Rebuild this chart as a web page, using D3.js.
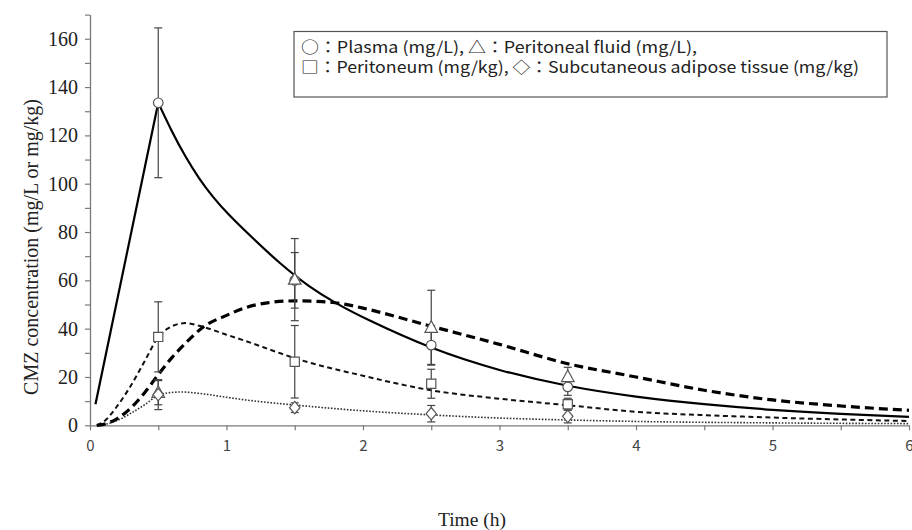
<!DOCTYPE html>
<html><head><meta charset="utf-8">
<script src="https://cdn.jsdelivr.net/npm/d3@7"></script>
<style>body{margin:0;background:#fff}svg{display:block}</style>
</head><body>
<svg id="c" width="912" height="530"></svg>
<script>
// ---- data ----
const sampleTimes = [0.5, 1.5, 2.5, 3.5];
const plasmaMean = [133.5, 60, 33.2, 15.9];
const plasmaSD = [31, 11.5, 8, 3.5];
const fluidMean = [13.5, 60.3, 40.4, 20];
const fluidSD = [5, 17, 15.5, 4];
const peritMean = [36.6, 26.3, 17.2, 8.7];
const peritSD = [14.5, 15, 6, 2.5];
const adiposeMean = [12.7, 7.3, 4.8, 3.7];
const adiposeSD = [6.2, 2, 3.4, 2.7];

const plasmaRiseT = [0.04, 0.5];
const plasmaRiseV = [8.7, 133.5];
const plasmaDecayT = [0.5, 0.6, 0.7, 0.8, 0.9, 1.0, 1.2, 1.4, 1.6, 1.8, 2.0, 2.5, 3.0, 3.5, 4.0, 4.5, 5.0, 5.5, 6.0];
const plasmaDecayV = [133.5, 121.5, 111, 102, 94.5, 88, 77, 66.5, 57.5, 50.5, 44.5, 31.5, 22.5, 16, 11.7, 8.6, 6.3, 4.7, 3.5];
const fluidT = [0.05, 0.1, 0.2, 0.3, 0.4, 0.5, 0.6, 0.7, 0.83, 1.0, 1.14, 1.3, 1.5, 1.7, 1.85, 2.0, 2.5, 3.0, 3.5, 4.0, 4.5, 5.0, 5.5, 6.0];
const fluidV = [0, 0.4, 2.8, 7.2, 13.5, 21, 28, 34, 40.7, 45.5, 48.7, 50.7, 51.5, 51.2, 50.3, 48.5, 41, 33.5, 25.5, 20, 14.5, 10.5, 8, 6.2];
const peritT = [0.05, 0.1, 0.2, 0.3, 0.4, 0.5, 0.6, 0.7, 0.83, 1.0, 1.14, 1.4, 1.5, 2.0, 2.5, 3.0, 3.5, 4.0, 4.5, 5.0, 5.5, 6.0];
const peritV = [0, 1.5, 8, 16.5, 26.5, 36.5, 41, 42.3, 40.7, 37.5, 34.9, 29.7, 27.8, 20.5, 14.5, 11, 8.3, 5.6, 4.2, 3.2, 2.4, 1.8];
const adiposeT = [0.05, 0.1, 0.2, 0.3, 0.4, 0.5, 0.6, 0.67, 0.8, 1.0, 1.14, 1.5, 2.0, 2.5, 3.0, 3.5, 4.0, 5.0, 6.0];
const adiposeV = [0, 0.3, 2, 5, 8.5, 12.4, 13.6, 13.8, 13.2, 11.6, 10.5, 8.4, 6, 4.3, 3, 2.2, 1.6, 1, 0.7];

const yTicks = [0,10,20,30,40,50,60,70,80,90,100,110,120,130,140,150,160,170];
const xTicks = [0,0.5,1,1.5,2,2.5,3,3.5,4,4.5,5,5.5,6];
const legendLines = ["○：Plasma (mg/L), △：Peritoneal fluid (mg/L),",
                     "□：Peritoneum (mg/kg), ◇：Subcutaneous adipose tissue (mg/kg)"];
const yTitle = "CMZ concentration (mg/L or mg/kg)";
const xTitle = "Time (h)";

// ---- drawing ----
const svg = d3.select("#c");
const x = d3.scaleLinear().domain([0, 6]).range([90, 909]);
const y = d3.scaleLinear().domain([0, 170]).range([425.3, 14.6]);
const axisColor = "#7a7a7a";

// y axis
const ya = svg.append("g").attr("transform", "translate(90,0)")
  .call(d3.axisLeft(y).tickValues(yTicks).tickSize(5).tickSizeOuter(0).tickPadding(7)
    .tickFormat(d => d % 20 === 0 && d <= 160 ? d : ""));
ya.select(".domain").attr("stroke", axisColor).attr("stroke-width", 1.3);
ya.selectAll(".tick line").attr("stroke", axisColor).attr("stroke-width", 1.2);
ya.selectAll(".tick text").attr("font-family", "Liberation Serif").attr("font-size", 20).attr("fill", "#222");

// x axis
const xa = svg.append("g").attr("transform", "translate(0,425.3)")
  .call(d3.axisBottom(x).tickValues(xTicks).tickSize(5).tickSizeOuter(0).tickPadding(10)
    .tickFormat(d => Number.isInteger(d) ? d : ""));
xa.select(".domain").attr("stroke", axisColor).attr("stroke-width", 1.3);
xa.selectAll(".tick line").attr("stroke", axisColor).attr("stroke-width", 1.2);
xa.selectAll(".tick text").attr("font-family", "Noto Sans CJK JP").attr("font-size", 15).attr("fill", "#444");

// titles
svg.append("text").attr("transform", "translate(38,247) rotate(-90)").attr("text-anchor", "middle")
  .attr("font-family", "Liberation Serif").attr("font-size", 20).attr("fill", "#222").text(yTitle);
svg.append("text").attr("x", 472).attr("y", 526).attr("text-anchor", "middle")
  .attr("font-family", "Liberation Serif").attr("font-size", 19.5).attr("fill", "#222").text(xTitle);

// curves
const zip = (ts, vs) => ts.map((t, i) => [t, vs[i]]);
const lineM = d3.line().x(d => x(d[0])).y(d => y(d[1])).curve(d3.curveMonotoneX);
const lineB = d3.line().x(d => x(d[0])).y(d => y(d[1])).curve(d3.curveBasis);
const lineL = d3.line().x(d => x(d[0])).y(d => y(d[1]));
const g = svg.append("g").attr("fill", "none");
g.append("path").attr("d", lineM(zip(adiposeT, adiposeV))).attr("stroke", "#333").attr("stroke-width", 1.6).attr("stroke-dasharray", "1.6,1.6");
g.append("path").attr("d", lineM(zip(peritT, peritV))).attr("stroke", "#111").attr("stroke-width", 2).attr("stroke-dasharray", "5,3.5");
g.append("path").attr("d", lineM(zip(fluidT, fluidV))).attr("stroke", "#000").attr("stroke-width", 3.2).attr("stroke-dasharray", "9,5");
g.append("path").attr("d", lineL(zip(plasmaRiseT, plasmaRiseV))).attr("stroke", "#000").attr("stroke-width", 2.2);
g.append("path").attr("d", lineB(zip(plasmaDecayT, plasmaDecayV))).attr("stroke", "#000").attr("stroke-width", 2.2);

// error bars
const series = [
  {m: plasmaMean, s: plasmaSD, shape: "circle"},
  {m: fluidMean, s: fluidSD, shape: "triangle"},
  {m: peritMean, s: peritSD, shape: "square"},
  {m: adiposeMean, s: adiposeSD, shape: "diamond"}
];
const eb = svg.append("g").attr("stroke", "#444").attr("stroke-width", 1.2);
series.forEach(se => {
  sampleTimes.forEach((t, i) => {
    const cx = x(t), top = y(se.m[i] + se.s[i]), bot = y(Math.max(0, se.m[i] - se.s[i]));
    eb.append("line").attr("x1", cx).attr("x2", cx).attr("y1", top).attr("y2", bot);
    eb.append("line").attr("x1", cx - 4).attr("x2", cx + 4).attr("y1", top).attr("y2", top);
    eb.append("line").attr("x1", cx - 4).attr("x2", cx + 4).attr("y1", bot).attr("y2", bot);
  });
});

// markers
function shapePath(shape) {
  if (shape === "circle") return "M4.8,0A4.8,4.8 0 1,1 -4.8,0A4.8,4.8 0 1,1 4.8,0Z";
  if (shape === "square") return "M-4.6,-4.6H4.6V4.6H-4.6Z";
  if (shape === "triangle") return "M0,-7L6.3,4.6H-6.3Z";
  return "M0,-6.2L5.2,0L0,6.2L-5.2,0Z";
}
const mk = svg.append("g");
series.forEach(se => {
  sampleTimes.forEach((t, i) => {
    mk.append("path").attr("d", shapePath(se.shape))
      .attr("transform", `translate(${x(t)},${y(se.m[i])})`)
      .attr("fill", "#fff").attr("stroke", "#555").attr("stroke-width", 1.2);
  });
});

// legend
svg.append("rect").attr("x", 294).attr("y", 31.5).attr("width", 593).attr("height", 65.5)
  .attr("fill", "#fff").attr("stroke", "#555").attr("stroke-width", 1.2);
const lt = svg.append("g").attr("font-family", "Noto Sans CJK JP").attr("font-size", 16).attr("fill", "#222");
lt.append("text").attr("x", 301).attr("y", 52.5).attr("textLength", 396).attr("lengthAdjust", "spacingAndGlyphs").text(legendLines[0]);
lt.append("text").attr("x", 301).attr("y", 72.5).attr("textLength", 558).attr("lengthAdjust", "spacingAndGlyphs").text(legendLines[1]);
</script>
</body></html>
